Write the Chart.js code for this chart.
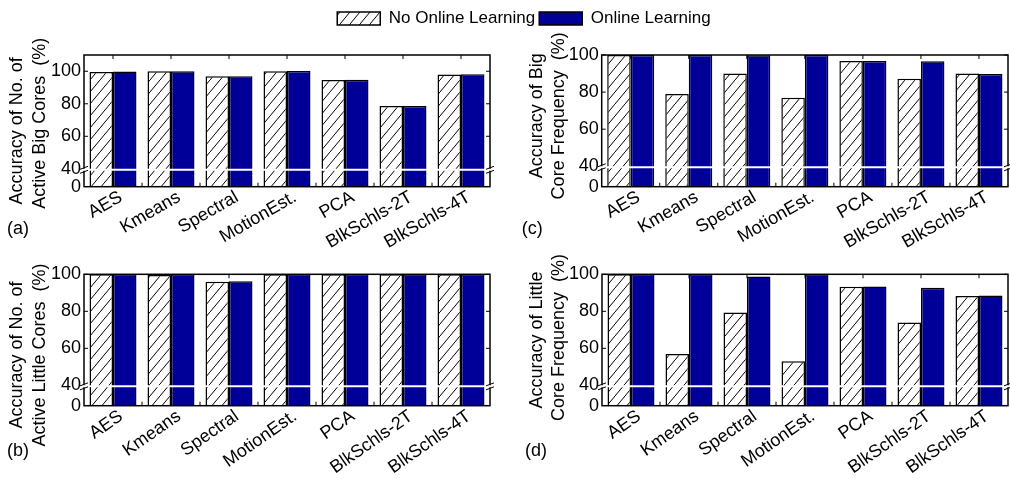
<!DOCTYPE html>
<html>
<head>
<meta charset="utf-8">
<script src="https://cdn.jsdelivr.net/npm/chart.js@4.4.0/dist/chart.umd.min.js"></script>
<style>
  body { margin: 0; background: #fff; }
  #wrap { position: relative; width: 1010px; height: 479px; overflow: hidden; }
  canvas { position: absolute; }
</style>
</head>
<body>
<div id="wrap">
  <canvas id="legend" width="1010" height="100" style="left:0;top:0"></canvas>
  <canvas id="pa" width="505" height="235" style="left:0;top:20px"></canvas>
  <canvas id="pc" width="505" height="235" style="left:505px;top:20px"></canvas>
  <canvas id="pb" width="505" height="239" style="left:0;top:240px"></canvas>
  <canvas id="pd" width="505" height="239" style="left:505px;top:240px"></canvas>
</div>
<script>
// benchmarks on the x axis
var benchmarks = ['AES', 'Kmeans', 'Spectral', 'MotionEst.', 'PCA', 'BlkSchls-2T', 'BlkSchls-4T'];
var seriesNames = ['No Online Learning', 'Online Learning'];
var yTickValues = [0, 40, 60, 80, 100];

// (a) accuracy of no. of active big cores
var bigCoresNoOnline = [99.6, 100, 97, 100, 94.6, 78.7, 98];
var bigCoresOnline   = [99.8, 100, 97, 100.2, 94.8, 78.7, 98.2];
// (b) accuracy of no. of active little cores
var littleCoresNoOnline = [100, 99.6, 96, 100, 100, 100, 100];
var littleCoresOnline   = [100, 100, 96.2, 100, 100, 100, 100];
// (c) accuracy of big core frequency
var bigFreqNoOnline = [100, 79, 90, 77, 96.7, 87.2, 90];
var bigFreqOnline   = [100, 100, 99.9, 100, 96.8, 96.6, 89.8];
// (d) accuracy of little core frequency
var littleFreqNoOnline = [100, 57, 79.3, 53, 93.3, 74, 88.3];
var littleFreqOnline   = [100, 100, 98.8, 100, 93.4, 92.8, 88.6];

var FONT = '"Liberation Sans", Arial, sans-serif';
var BLUE = '#000099';
var BREAK_AT = 40;   // axis is broken here
var LOW_UNITS = 11;  // 0..40 squeezed into this many units

Chart.defaults.font.family = FONT;
Chart.defaults.color = '#000';

function toUnits(v) {
  return v < BREAK_AT ? v * LOW_UNITS / BREAK_AT : v - BREAK_AT + LOW_UNITS;
}
function fromUnits(u) {
  return u < LOW_UNITS ? u * BREAK_AT / LOW_UNITS : u + BREAK_AT - LOW_UNITS;
}

// linear scale with a compressed 0-40 segment
class BrokenScale extends Chart.LinearScale {
  buildTicks() {
    this.start = this.min;
    this.end = this.max;
    return yTickValues.map(function (v) { return { value: v }; });
  }
  getPixelForValue(value) {
    var lo = toUnits(this.min), hi = toUnits(this.max);
    return this.getPixelForDecimal((toUnits(value) - lo) / (hi - lo));
  }
  getValueForPixel(pixel) {
    var lo = toUnits(this.min), hi = toUnits(this.max);
    return fromUnits(lo + this.getDecimalForPixel(pixel) * (hi - lo));
  }
}
BrokenScale.id = 'broken';
BrokenScale.defaults = Chart.LinearScale.defaults;
Chart.register(BrokenScale);

function makeHatch(ctx) {
  var c = document.createElement('canvas');
  c.width = 10; c.height = 12;
  var g = c.getContext('2d');
  g.fillStyle = '#fff';
  g.fillRect(0, 0, 10, 12);
  g.strokeStyle = '#000';
  g.lineWidth = 1;
  g.beginPath();
  g.moveTo(0, 12); g.lineTo(10, 0);
  g.moveTo(10, 0); g.lineTo(20, -12);
  g.moveTo(-10, 24); g.lineTo(0, 12);
  g.stroke();
  return ctx.createPattern(c, 'repeat');
}

// box, inward ticks, axis break and panel letter
var framePlugin = {
  id: 'frame',
  afterDraw: function (chart, args, opts) {
    var a = chart.chartArea, ctx = chart.ctx;
    var xs = chart.scales.x, ys = chart.scales.y;
    ctx.save();
    ctx.strokeStyle = '#000';
    ctx.lineWidth = 1.5;
    ctx.strokeRect(a.left, a.top, a.right - a.left, a.bottom - a.top);

    ctx.lineWidth = 1;
    ctx.beginPath();
    var n = xs.ticks.length;
    for (var i = 0; i < n; i++) {
      var x = xs.getPixelForTick(i);
      ctx.moveTo(x, a.top); ctx.lineTo(x, a.top + 4);
      if (i < n - 1) {
        var xb = (x + xs.getPixelForTick(i + 1)) / 2;
        ctx.moveTo(xb, a.bottom); ctx.lineTo(xb, a.bottom - 4);
      }
    }
    ys.ticks.forEach(function (t) {
      if (t.value <= BREAK_AT) return;
      var y = ys.getPixelForValue(t.value);
      ctx.moveTo(a.left, y); ctx.lineTo(a.left + 4, y);
      ctx.moveTo(a.right, y); ctx.lineTo(a.right - 4, y);
    });
    ctx.stroke();

    var yb = ys.getPixelForValue(BREAK_AT) + 1;
    ctx.strokeStyle = '#fff';
    ctx.lineWidth = 2;
    ctx.beginPath();
    ctx.moveTo(a.left - 3, yb); ctx.lineTo(a.right + 3, yb);
    ctx.stroke();
    ctx.strokeStyle = '#000';
    ctx.lineWidth = 1;
    ctx.beginPath();
    [a.left, a.right].forEach(function (x) {
      [-2, 2].forEach(function (d) {
        ctx.moveTo(x - 4, yb + d + 1.5); ctx.lineTo(x + 4, yb + d - 1.5);
      });
    });
    ctx.stroke();

    ctx.fillStyle = '#000';
    ctx.font = '18px ' + FONT;
    ctx.textBaseline = 'middle';
    ctx.fillText(opts.label, opts.x, opts.y);
    ctx.restore();
  }
};

function makePanel(id, noOnline, online, yMax, title, box, letter) {
  var ctx = document.getElementById(id).getContext('2d');
  return new Chart(ctx, {
    type: 'bar',
    data: {
      labels: benchmarks,
      datasets: [
        { label: seriesNames[0], data: noOnline, backgroundColor: makeHatch(ctx),
          borderColor: '#000', borderWidth: 1.5, categoryPercentage: 0.81, barPercentage: 1 },
        { label: seriesNames[1], data: online, backgroundColor: BLUE,
          borderColor: '#000', borderWidth: 1.5, categoryPercentage: 0.81, barPercentage: 1 }
      ]
    },
    options: {
      responsive: false,
      animation: false,
      layout: { padding: { left: box.padLeft, top: box.padTop, right: box.padRight, bottom: 0 } },
      scales: {
        x: {
          grid: { display: false, drawTicks: false },
          border: { display: false },
          ticks: { font: { size: 18 }, color: '#000', minRotation: box.rot, maxRotation: box.rot,
                   autoSkip: false, padding: 0, labelOffset: 8 },
          afterFit: function (s) { s.height = box.xHeight; }
        },
        y: {
          type: 'broken',
          min: 0,
          max: yMax,
          grid: { display: false, drawTicks: false },
          border: { display: false },
          ticks: { font: { size: 18, lineHeight: 1 }, color: '#000', autoSkip: false, padding: 3,
                   callback: function (v) { return String(v); } },
          title: { display: true, text: title, font: { size: 18, lineHeight: 1.25 }, color: '#000', padding: { top: 6, bottom: 0 } },
          afterFit: function (s) { s.width = box.yWidth; }
        }
      },
      plugins: {
        legend: { display: false },
        tooltip: { enabled: false },
        frame: letter
      }
    },
    plugins: [framePlugin]
  });
}

makePanel('pa', bigCoresNoOnline, bigCoresOnline, 110,
  ['Accuracy of No. of    ', 'Active Big Cores  (%) '],
  { padLeft: 0, padTop: 35, padRight: 15, xHeight: 68.3, yWidth: 84, rot: 30 },
  { label: '(a)', x: 7, y: 209 });
makePanel('pc', bigFreqNoOnline, bigFreqOnline, 100,
  ['  Accuracy of Big', '  Core Frequency  (%)'],
  { padLeft: 14.7, padTop: 35, padRight: 2, xHeight: 68.3, yWidth: 82, rot: 30 },
  { label: '(c)', x: 16.7, y: 209 });
makePanel('pb', littleCoresNoOnline, littleCoresOnline, 100,
  ['Accuracy of No. of      ', 'Active Little Cores  (%)      '],
  { padLeft: 0, padTop: 34.3, padRight: 15, xHeight: 73.3, yWidth: 84, rot: 35 },
  { label: '(b)', x: 7, y: 211 });
makePanel('pd', littleFreqNoOnline, littleFreqOnline, 100,
  ['Accuracy of Little', ' Core Frequency  (%)'],
  { padLeft: 14.7, padTop: 34.3, padRight: 2, xHeight: 73.3, yWidth: 82.3, rot: 35 },
  { label: '(d)', x: 20, y: 211 });

// shared legend on top
var lctx = document.getElementById('legend').getContext('2d');
new Chart(lctx, {
  type: 'bar',
  data: {
    labels: [],
    datasets: [
      { label: seriesNames[0], data: [], backgroundColor: makeHatch(lctx), borderColor: '#000', borderWidth: 1.5 },
      { label: seriesNames[1], data: [], backgroundColor: BLUE, borderColor: '#000', borderWidth: 1.5 }
    ]
  },
  options: {
    responsive: false,
    animation: false,
    layout: { padding: { top: 6, left: 38 } },
    scales: { x: { display: false }, y: { display: false } },
    plugins: {
      legend: {
        labels: { boxWidth: 43, boxHeight: 13, font: { size: 17 }, color: '#000', padding: 4 }
      },
      tooltip: { enabled: false }
    }
  }
});
</script>
</body>
</html>
